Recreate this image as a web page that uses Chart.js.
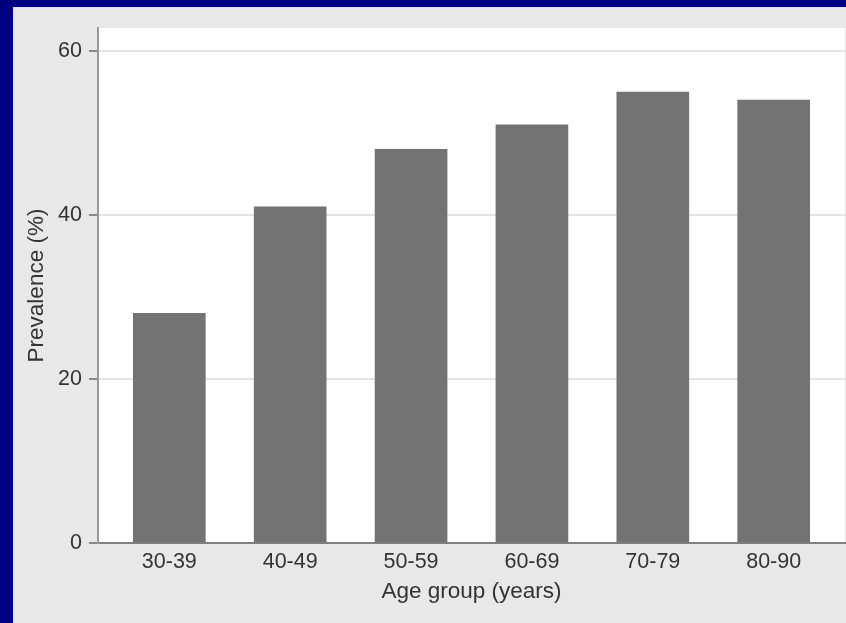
<!DOCTYPE html>
<html>
<head>
<meta charset="utf-8">
<script src="https://cdn.jsdelivr.net/npm/chart.js@4.4.0/dist/chart.umd.min.js"></script>
<style>
  html, body { margin: 0; padding: 0; background: #000080; width: 846px; height: 623px; overflow: hidden; }
  #frame { position: absolute; left: 13px; top: 7px; width: 833px; height: 616px; background: #e8e8e8; }
</style>
</head>
<body>
<div id="frame"><canvas id="prevChart"></canvas></div>
<script>
const categories = ["30-39", "40-49", "50-59", "60-69", "70-79", "80-90"];
const prevalence = [28, 41, 48, 51, 55, 54];
const yTicks = [0, 20, 40, 60];

const FONT = "'Liberation Sans', Arial, Helvetica, sans-serif";
const TEXT = "#333333";

// white plot region behind the bars
const plotBg = {
    id: "plotBg",
    beforeDraw(chart) {
        const { ctx, chartArea } = chart;
        ctx.save();
        ctx.fillStyle = "#ffffff";
        ctx.fillRect(chartArea.left, chartArea.top, chartArea.right - chartArea.left, chartArea.bottom - chartArea.top);
        ctx.restore();
    }
};

const ctx = document.getElementById("prevChart").getContext("2d");

new Chart(ctx, {
    type: "bar",
    data: {
        datasets: [{
            data: prevalence.map((v, i) => ({ x: i, y: v })),
            backgroundColor: "#737373",
            borderWidth: 0,
            barThickness: 72
        }]
    },
    options: {
        responsive: true,
        maintainAspectRatio: false,
        animation: false,
        layout: { padding: { top: 21, right: 1, left: 0, bottom: 0 } },
        plugins: { legend: { display: false }, tooltip: { enabled: false } },
        scales: {
            x: {
                type: "linear",
                offset: false,
                min: -0.59,
                max: 5.59,
                afterBuildTicks: (scale) => { scale.ticks = categories.map((c, i) => ({ value: i })); },
                afterFit: (scale) => { scale.height = 80; },
                grid: { display: false, drawTicks: false },
                border: { display: true, color: "#808080", width: 2 },
                ticks: {
                    padding: 6,
                    color: TEXT,
                    font: { family: FONT, size: 21.5 },
                    callback: (v) => categories[v]
                },
                title: {
                    display: true,
                    text: "Age group (years)",
                    color: TEXT,
                    font: { family: FONT, size: 22.5 },
                    padding: { top: 0, bottom: 18 }
                }
            },
            y: {
                min: 0,
                max: 62.8,
                afterBuildTicks: (scale) => { scale.ticks = yTicks.map(v => ({ value: v })); },
                afterFit: (scale) => { scale.width = 85; },
                grid: { color: "#e4e4e4", lineWidth: 2, tickColor: "#888888", tickLength: 9 },
                border: { display: true, color: "#999999", width: 2 },
                ticks: {
                    padding: 7,
                    color: TEXT,
                    font: { family: FONT, size: 21.5 }
                },
                title: {
                    display: true,
                    text: "Prevalence (%)",
                    color: TEXT,
                    font: { family: FONT, size: 22.5 },
                    padding: { top: 10, bottom: 0 }
                }
            }
        }
    },
    plugins: [plotBg]
});
</script>
</body>
</html>
